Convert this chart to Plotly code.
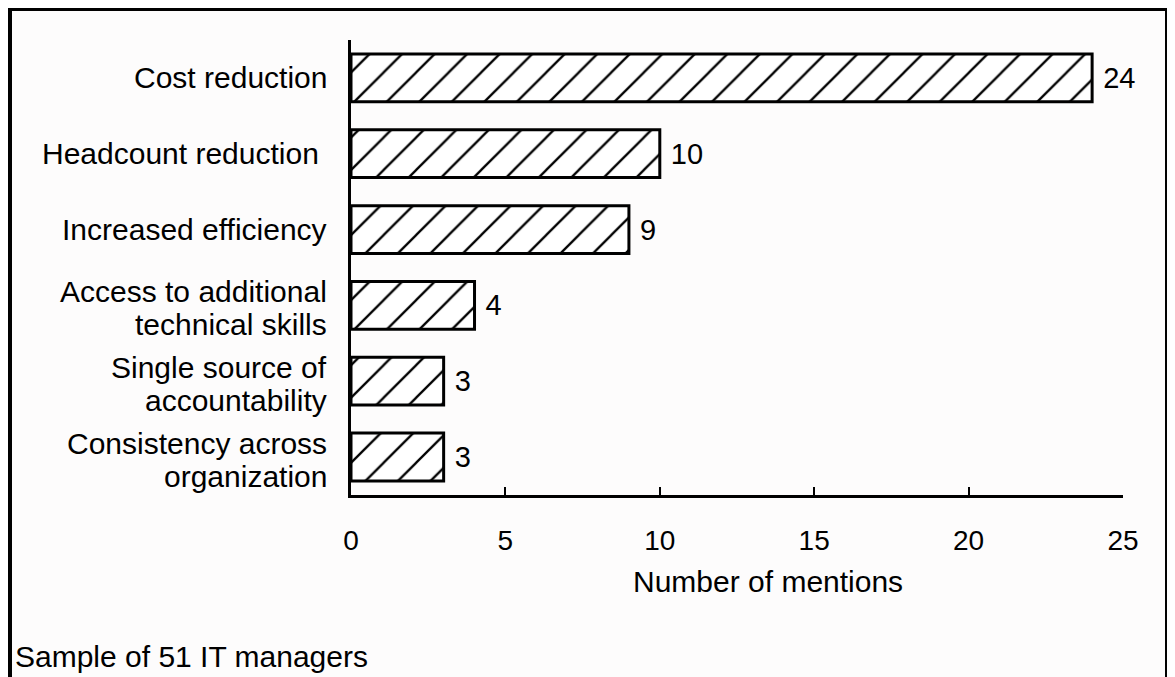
import plotly.graph_objects as go

# reasons for outsourcing, top to bottom
reasons = [
    "Cost reduction",
    "Headcount reduction ",
    "Increased efficiency",
    "Access to additional<br>technical skills",
    "Single source of<br>accountability",
    "Consistency across<br>organization",
]
mentions = [24, 10, 9, 4, 3, 3]
x_ticks = [0, 5, 10, 15, 20, 25]

W, H = 1175, 677
OFF = 8  # page body margin shifts the figure
L, R, T, B = 351 - OFF, 1123 - OFF, 40 - OFF, 495 - OFF  # plot area in pixels
pw, ph = R - L, B - T


def px(x):
    return (x - OFF - L) / pw


def py(y):
    return (B - (y - OFF)) / ph


FONT = "Liberation Sans, Arial, Helvetica, sans-serif"

fig = go.Figure()
fig.add_trace(go.Bar(
    x=mentions,
    y=reasons,
    orientation="h",
    width=0.63,
    marker=dict(
        color="white",
        line=dict(color="black", width=3),
        pattern=dict(shape="/", fgcolor="black", bgcolor="white", fgopacity=1,
                     size=23, solidity=0.1),
    ),
    text=[f" {v}" for v in mentions],
    textposition="outside",
    textfont=dict(size=29, color="black", family=FONT),
    cliponaxis=False,
))

fig.update_layout(
    width=W, height=H,
    margin=dict(l=L, r=W - R, t=T, b=H - B),
    paper_bgcolor="#fdfcfc",
    plot_bgcolor="#fdfcfc",
    font=dict(family=FONT, size=30, color="black"),
    showlegend=False,
)

fig.update_xaxes(
    range=[0, 25],
    tickvals=x_ticks,
    ticks="inside", ticklen=8, tickwidth=2, tickcolor="black",
    showline=True, linewidth=3, linecolor="black",
    showgrid=False, zeroline=False,
    tickfont=dict(size=28),
    ticklabelstandoff=18,
)
fig.update_yaxes(
    categoryorder="array", categoryarray=reasons[::-1],
    showline=True, linewidth=3, linecolor="black",
    showgrid=False, zeroline=False, ticks="",
    showticklabels=False,
)

# category labels, set line by line for tighter leading
LINE_GAP = 33
for cat in reasons:
    lines = cat.split("<br>")
    n = len(lines)
    for i, line in enumerate(lines):
        fig.add_annotation(
            text=line, xref="paper", yref="y",
            x=0, y=cat, xanchor="right", yanchor="middle",
            xshift=-22, yshift=-(i - (n - 1) / 2) * LINE_GAP + (-3 if n > 1 else 0),
            showarrow=False, font=dict(size=30),
        )

fig.add_annotation(
    text="Number of mentions", xref="paper", yref="paper",
    x=px(768), y=py(581), xanchor="center", yanchor="middle",
    showarrow=False, font=dict(size=30),
)
fig.add_annotation(
    text="Sample of 51 IT managers", xref="paper", yref="paper",
    x=px(13), y=py(656), xanchor="left", yanchor="middle",
    showarrow=False, font=dict(size=30),
)

# outer frame (bottom edge runs past the picture)
fig.add_shape(
    type="rect", xref="paper", yref="paper",
    x0=px(10), x1=px(1167), y0=py(720), y1=py(9),
    line=dict(color="black", width=4), fillcolor="rgba(0,0,0,0)",
    layer="below",
)

fig.write_html("out.html")
